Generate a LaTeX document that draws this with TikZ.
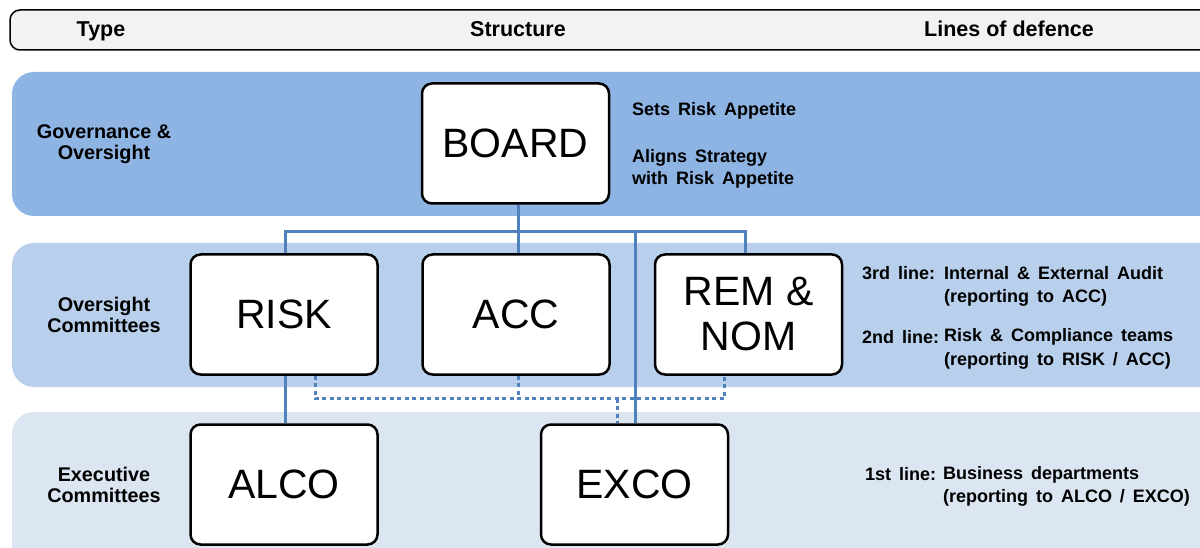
\documentclass[tikz,border=0pt]{standalone}
\usepackage{fontspec}
\setmainfont{Liberation Sans}
\usetikzlibrary{calc}
\definecolor{bandA}{HTML}{8EB4E3}
\definecolor{bandB}{HTML}{B9D0ED}
\definecolor{bandC}{HTML}{DCE6F2}
\definecolor{headfill}{HTML}{F2F2F2}
\definecolor{connblue}{HTML}{4F81BD}
\newcommand\mywidesp{\spaceskip=0.44em plus 0.1em\relax}
\begin{document}
\begin{tikzpicture}[x=1pt,y=-1pt,
  orgbox/.style={draw=black, line width=2.5pt, fill=white, rounded corners=10pt,
    minimum width=187pt, minimum height=120pt, inner sep=0pt, align=center,
    font=\fontsize{41}{45}\selectfont},
  band/.style={rounded corners=22pt, draw=none},
  conn/.style={draw=connblue, line width=3pt},
  dotconn/.style={draw=connblue, line width=3pt, dash pattern=on 4pt off 3.5pt},
  headtxt/.style={font=\fontsize{21.5}{24}\selectfont\bfseries, anchor=base, inner sep=0pt},
  smalltxt/.style={font={\fontsize{18}{22}\selectfont\bfseries\mywidesp}, inner sep=0pt, anchor=west},
  typetxt/.style={font=\fontsize{19.8}{21}\selectfont\bfseries, align=center, inner sep=0pt}
]
\useasboundingbox (0,0) rectangle (1200,548);
\clip (0,0) rectangle (1200,548);
% header
\draw[fill=headfill, line width=1.5pt, rounded corners=10pt] (10,10) rectangle (1215,50);
\node[headtxt] (hType) at (101,37) {Type};
\node[headtxt] (hStruct) at (518,37) {Structure};
\node[headtxt] (hLines) at (1009,37) {Lines of defence};
% bands
\fill[band, bandA] (12,72) rectangle (1222,216);
\fill[band, bandB] (12,243) rectangle (1222,387);
\fill[band, bandC] (12,412) rectangle (1222,580);
% type labels
\node[typetxt] (tGov) at (104,144) {Governance \&\\Oversight};
\node[typetxt] (tOvs) at (104,315) {Oversight\\Committees};
\node[typetxt] (tExe) at (104,485) {Executive\\Committees};
% connector levels
\coordinate (jL) at (285,232);
\coordinate (jR) at (745,232);
% boxes
\node[orgbox] (BOARD) at (515.5,143.5) {BOARD};
\node[orgbox] (RISK) at (284,314.5) {RISK};
\node[orgbox] (ACC) at (516,314.5) {ACC};
\node[orgbox] (REM) at (748.5,314.5) {REM \&\\NOM};
\node[orgbox] (ALCO) at (284,484.5) {ALCO};
\node[orgbox] (EXCO) at (634.5,484.5) {EXCO};
% solid connectors
\draw[conn] ([xshift=2.5pt]BOARD.south) -- ([xshift=2pt]ACC.north);
\draw[conn] ([xshift=1pt]RISK.north) -- ([xshift=1pt]RISK.north |- jL) -- ([xshift=-3.5pt]REM.north |- jR) -- ([xshift=-3.5pt]REM.north);
\draw[conn] ([xshift=1pt]EXCO.north |- jL) -- ([xshift=1pt]EXCO.north);
\draw[conn] ([xshift=1pt]RISK.south) -- ([xshift=1pt]ALCO.north);
% dotted connectors
\draw[dotconn] ([xshift=31pt]RISK.south) -- ++(0,23) coordinate (dL) -- ([xshift=-24.5pt]REM.south |- dL) -- ([xshift=-24.5pt]REM.south);
\draw[dotconn] ([xshift=2pt]ACC.south) -- ([xshift=2pt]ACC.south |- dL);
\draw[dotconn] ([xshift=-17.5pt]EXCO.north |- dL) -- ([xshift=-17.5pt]EXCO.north);
% right texts
\node[smalltxt] (s1) at (632,111) {Sets Risk Appetite};
\node[smalltxt] (s2) at (632,158) {Aligns Strategy};
\node[smalltxt] (s3) at (632,180) {with Risk Appetite};
\node[smalltxt] (l3a) at (862,273.5) {3rd line:};
\node[smalltxt] (l3b) at (944,273.5) {Internal \& External Audit};
\node[smalltxt] (l3c) at (944,298) {(reporting to ACC)};
\node[smalltxt] (l2a) at (862,337) {2nd line:};
\node[smalltxt] (l2b) at (944,337) {Risk \& Compliance teams};
\node[smalltxt] (l2c) at (944,361) {(reporting to RISK / ACC)};
\node[smalltxt] (l1a) at (865,474.5) {1st line:};
\node[smalltxt] (l1b) at (943,474.5) {Business departments};
\node[smalltxt] (l1c) at (943,497.5) {(reporting to ALCO / EXCO)};
\end{tikzpicture}
\end{document}
